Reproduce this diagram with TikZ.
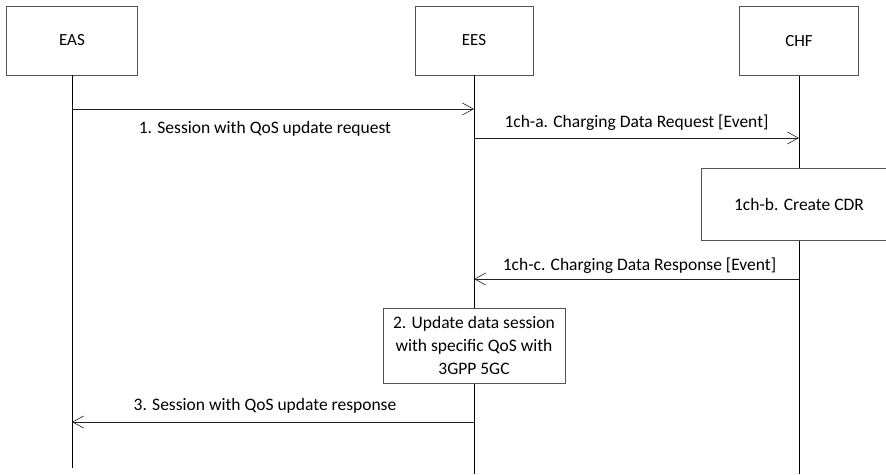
\documentclass[tikz,border=0pt]{standalone}
\usepackage{fontspec}
\setmainfont{Carlito}
\usetikzlibrary{arrows.meta,positioning}

\begin{document}
\begin{tikzpicture}[
  x=1pt, y=-1pt,
  ent/.style={
    draw=gray!65!black, fill=white, line width=0.7pt,
    minimum height=69pt, font=\fontsize{17}{20}\selectfont},
  act/.style={
    draw=gray!65!black, fill=white, line width=0.7pt, align=center,
    font=\fontsize{17.5}{23}\selectfont},
  life/.style={draw=black, line width=0.6pt},
  msg/.style={
    -{Straight Barb[length=11pt,width=12pt]},
    draw=gray!25!black, line width=0.6pt},
  lbl/.style={font=\fontsize{17.5}{20}\selectfont, inner sep=1pt},
]
\useasboundingbox (0,0) rectangle (886,474);

%% ENTITIES
\node[ent, minimum width=131pt] (eas) at (72,40.5)  {EAS};
\node[ent, minimum width=118pt] (ees) at (474,40.5) {EES};
\node[ent, minimum width=119pt] (chf) at (799,41)   {CHF};

%% LIFELINES
\coordinate (easEnd) at (72,468);
\coordinate (eesEnd) at (474,474);
\coordinate (chfEnd) at (799,474);
\draw[life] (eas.south) -- (easEnd);
\draw[life] (ees.south) -- (eesEnd);
\draw[life] (chf.south) -- (chfEnd);

%% MESSAGE POINTS
\coordinate (m1s) at (72,109);   \coordinate (m1e) at (474,109);
\coordinate (mas) at (474,138);  \coordinate (mae) at (799,138);
\coordinate (mcs) at (799,279);  \coordinate (mce) at (474,279);
\coordinate (m3s) at (474,422);  \coordinate (m3e) at (72,422);

%% ACTIONS
\node[act, minimum width=196pt, minimum height=72pt] (cdr) at (799,204)
  {1ch-b. Create CDR};
\node[act, minimum width=182pt, minimum height=75pt] (upd) at (474,345.5)
  {2. Update data session\\with specific QoS with\\3GPP 5GC};

%% ARROWS
\draw[msg] (m1s) -- (m1e)
  node[lbl, midway, below=11pt, xshift=-8pt] {1. Session with QoS update request};
\draw[msg] (mas) -- (mae)
  node[lbl, midway, above=6pt] {1ch-a. Charging Data Request [Event]};
\draw[msg] (mcs) -- (mce)
  node[lbl, midway, above=4pt, xshift=3pt] {1ch-c. Charging Data Response [Event]};
\draw[msg] (m3s) -- (m3e)
  node[lbl, midway, above=7pt, xshift=-8pt] {3. Session with QoS update response};

\end{tikzpicture}
\end{document}
